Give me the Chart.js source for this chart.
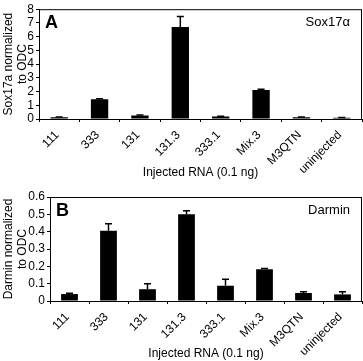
<!DOCTYPE html>
<html>
<head>
<meta charset="utf-8">
<script src="https://cdn.jsdelivr.net/npm/chart.js@4"></script>
<style>
	html, body { margin: 0; padding: 0; background: #fff; }
	#wrap { position: relative; width: 363px; height: 361px; }
	canvas { position: absolute; left: 0; display: block; }
</style>
</head>
<body>
<div id="wrap">
	<canvas id="chartA" width="363" height="180" style="top:0"></canvas>
	<canvas id="chartB" width="363" height="181" style="top:180px"></canvas>
</div>
<script>
// Injected RNA categories (x axis)
const categories = ['111', '333', '131', '131.3', '333.1', 'Mix.3', 'M3QTN', 'uninjected'];

// Panel A: Sox17a normalized to ODC
const sox17Values = [0.12, 1.44, 0.26, 6.7, 0.18, 2.12, 0.13, 0.09];
const sox17Errors = [0.02, 0.03, 0.03, 0.76, 0.02, 0.04, 0.02, 0.02];

// Panel B: Darmin normalized to ODC
const darminValues = [0.04, 0.405, 0.068, 0.50, 0.088, 0.183, 0.046, 0.038];
const darminErrors = [0.004, 0.041, 0.032, 0.02, 0.037, 0.004, 0.008, 0.016];

const FONT = 'Liberation Sans, Arial, Helvetica, sans-serif';
Chart.defaults.font.family = FONT;
Chart.defaults.font.size = 12;
Chart.defaults.color = '#000';

// draws the box round the plot, the error bars and the panel labels
const panelPlugin = {
	id: 'panel',
	afterDatasetsDraw(chart, args, opts) {
		const ctx = chart.ctx;
		const area = chart.chartArea;
		const y = chart.scales.y;
		const meta = chart.getDatasetMeta(0);
		ctx.save();
		// error bars (upper only)
		ctx.strokeStyle = '#000';
		ctx.lineWidth = 1.5;
		opts.errors.forEach((err, i) => {
			const v = opts.values[i];
			const cx = meta.data[i].x;
			const yTop = y.getPixelForValue(v);
			const yErr = y.getPixelForValue(v + err);
			ctx.beginPath();
			ctx.moveTo(cx, yTop);
			ctx.lineTo(cx, yErr);
			ctx.moveTo(cx - 3.5, yErr);
			ctx.lineTo(cx + 3.5, yErr);
			ctx.stroke();
		});
		// frame
		ctx.lineWidth = 1;
		ctx.strokeRect(area.left + 0.5, area.top + 0.5, area.right - area.left - 1, area.bottom - area.top);
		// panel letter
		ctx.fillStyle = '#000';
		ctx.textBaseline = 'alphabetic';
		ctx.textAlign = 'left';
		ctx.font = 'bold 18px ' + FONT;
		ctx.fillText(opts.letter, area.left + 6, area.top + 19);
		// gene name
		ctx.font = '13px ' + FONT;
		ctx.textAlign = 'right';
		ctx.fillText(opts.gene, area.right - 12, area.top + 17);
		ctx.restore();
	}
};

function makeChart(id, values, errors, yMax, yStep, yTitle, letter, gene, padTop, yWidth, xHeight) {
	const ctx = document.getElementById(id).getContext('2d');
	return new Chart(ctx, {
		type: 'bar',
		data: {
			labels: categories,
			datasets: [{
				data: values,
				backgroundColor: '#000',
				borderWidth: 0,
				barPercentage: 0.43,
				categoryPercentage: 1
			}]
		},
		options: {
			responsive: false,
			animation: false,
			layout: { padding: { top: padTop, right: 1, left: 0, bottom: 0 } },
			plugins: {
				legend: { display: false },
				tooltip: { enabled: false },
				panel: { values: values, errors: errors, letter: letter, gene: gene }
			},
			scales: {
				x: {
					offset: true,
					border: { color: '#000', width: 1 },
					grid: { display: true, drawOnChartArea: false, offset: true, tickLength: 3, color: '#000' },
					ticks: { autoSkip: false, maxRotation: 45, minRotation: 45, padding: 6, labelOffset: -2, font: { size: 12 } },
					title: { display: true, text: 'Injected RNA (0.1 ng)', padding: { top: 0, bottom: 0 }, font: { size: 12 } },
					afterFit: s => { s.height = xHeight; }
				},
				y: {
					min: 0,
					max: yMax,
					border: { color: '#000', width: 1 },
					grid: { display: true, drawOnChartArea: false, tickLength: 3, color: '#000' },
					ticks: { stepSize: yStep, autoSkip: false, padding: 2, font: { size: 12 } },
					title: { display: true, text: yTitle, padding: { top: 1, bottom: 2 }, font: { size: 12, lineHeight: 1.2 } },
					afterFit: s => { s.width = yWidth; }
				}
			}
		},
		plugins: [panelPlugin]
	});
}

makeChart('chartA', sox17Values, sox17Errors, 8, 1, ['Sox17a normalized', 'to ODC'], 'A', 'Sox17\u03b1', 5, 39, 61);
makeChart('chartB', darminValues, darminErrors, 0.6, 0.1, ['Darmin normalized', 'to ODC'], 'B', 'Darmin', 17, 50, 60);
</script>
</body>
</html>
